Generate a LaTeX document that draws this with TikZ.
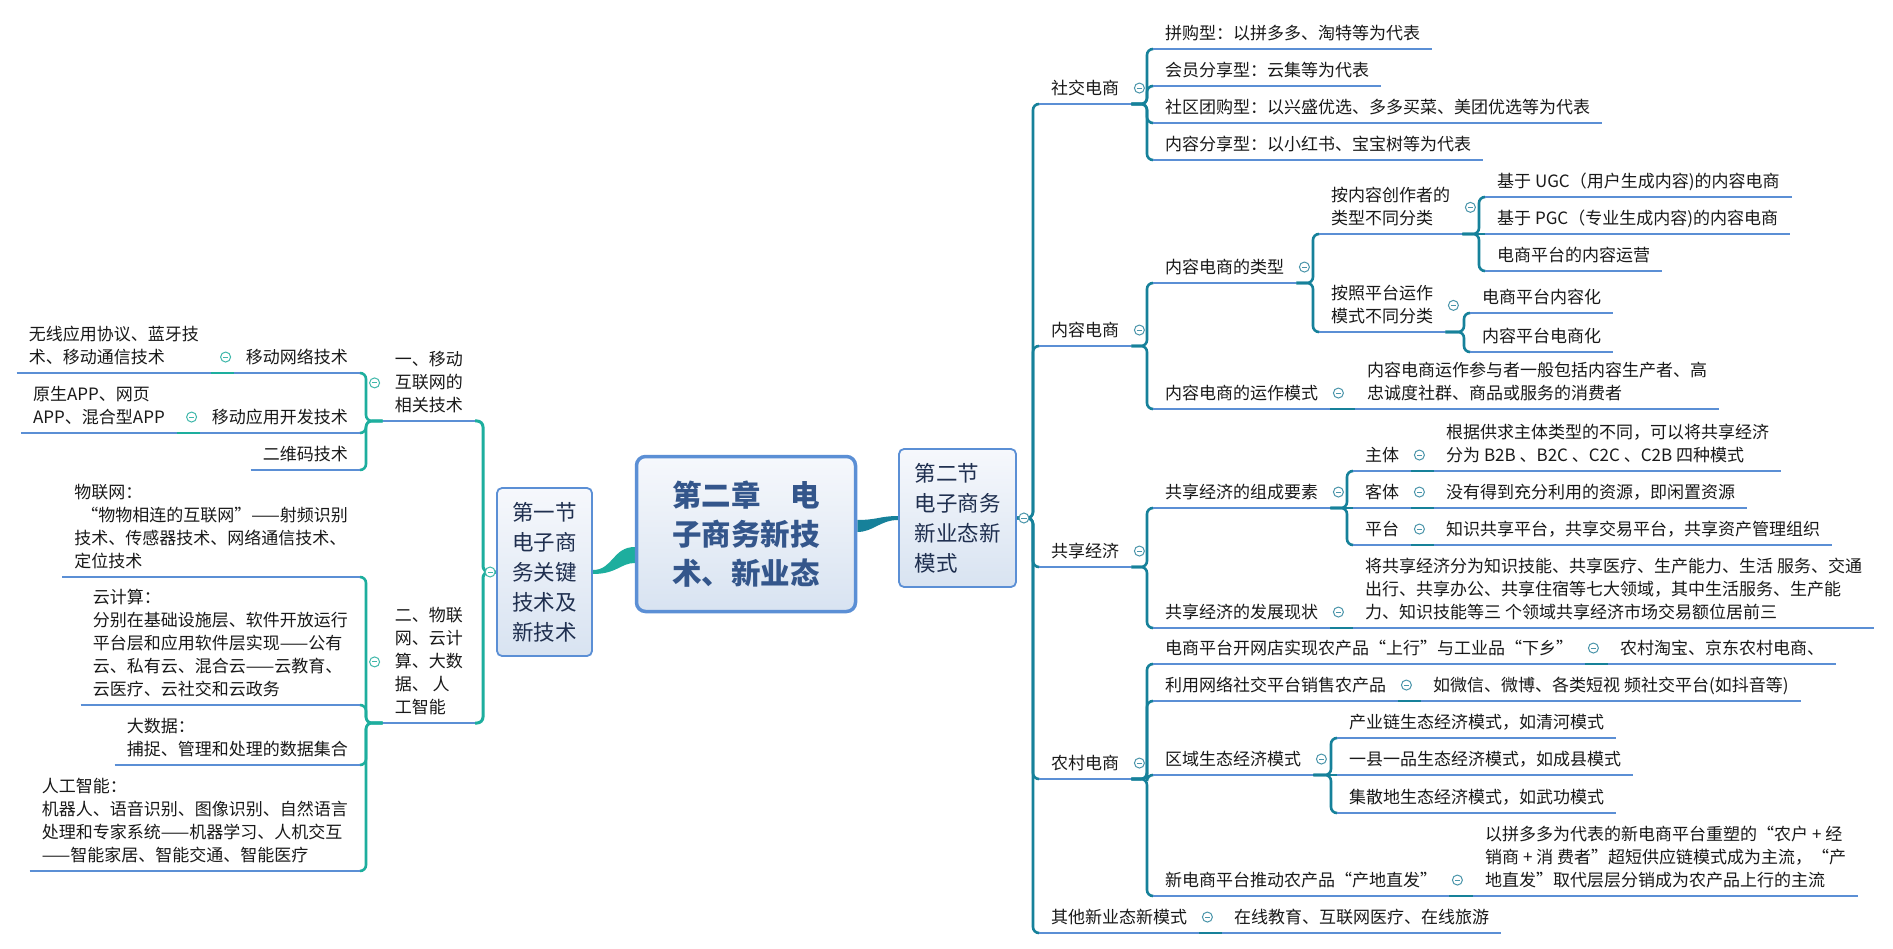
\documentclass[tikz,border=0pt]{standalone}
\usepackage{fontspec}
\setmainfont{Noto Sans CJK SC}
\usetikzlibrary{calc,backgrounds}
\definecolor{ublue}{HTML}{5B8FD5}
\definecolor{lteal}{HTML}{1DAE9E}
\definecolor{rteal}{HTML}{16819A}
\definecolor{lcircc}{HTML}{3FB8AA}
\definecolor{rcircc}{HTML}{4A95AA}
\definecolor{boxtop}{HTML}{F6F8FC}
\definecolor{boxbot}{HTML}{D8E3F1}
\definecolor{cdark}{HTML}{34568B}
\definecolor{sdark}{HTML}{1F2F4F}
\tikzset{
  uline/.style={draw=ublue, line width=2.2pt},
  topic/.style={inner xsep=12pt, inner ysep=0pt, align=left,
    font=\fontsize{17}{23}\selectfont, text=black!90,
    execute at begin node={\rule{0pt}{16pt}},
    execute at end node={\rule[-9.5pt]{0pt}{9.5pt}},
    append after command={(\tikzlastnode.south west) edge[uline] (\tikzlastnode.south east)}},
  rt/.style={topic, anchor=south west},
  lt/.style={topic, anchor=south east},
  rconn/.style={draw=rteal, line width=2.6pt, rounded corners=6pt},
  lconn/.style={draw=lteal, line width=2.6pt, rounded corners=6pt},
  rcoll/.style={circle, draw=rcircc, fill=white, line width=1pt, minimum size=10pt, inner sep=0pt,
    path picture={\draw[rcircc, line width=1pt] ([xshift=-2.6pt]path picture bounding box.center) -- ([xshift=2.6pt]path picture bounding box.center);}},
  lcoll/.style={circle, draw=lcircc, fill=white, line width=1pt, minimum size=10pt, inner sep=0pt,
    path picture={\draw[lcircc, line width=1pt] ([xshift=-2.6pt]path picture bounding box.center) -- ([xshift=2.6pt]path picture bounding box.center);}},
  cbox/.style={rounded corners=9pt, draw=ublue, line width=3.5pt, top color=boxtop, bottom color=boxbot,
    minimum width=219pt, minimum height=155pt, inner sep=0pt, align=left, text=cdark,
    font=\fontsize{29.5}{39}\selectfont\bfseries},
  sbox/.style={rounded corners=5pt, draw=ublue, line width=1.8pt, top color=boxtop, bottom color=boxbot,
    inner sep=0pt, align=left, text=sdark, font=\fontsize{21.5}{30}\selectfont},
}
\newcommand\mmRlink[2]{\path (#2.south west) ++(-6pt,0) coordinate (tmp); \draw[rconn] (#1.south east) -- (#1.south east -| tmp) |- (#2.south west);}
\newcommand\mmRstr[2]{\draw[rconn] (#1.south east) -- (#2.south west);}
\newcommand\mmLlink[2]{\path (#2.south east) ++(6pt,0) coordinate (tmp); \draw[lconn] (#1.south west) -- (#1.south west -| tmp) |- (#2.south east);}
\newcommand\mmLstr[2]{\draw[lconn] (#1.south west) -- (#2.south east);}
\newcommand\mmRcol[1]{\node[rcoll] (c#1) at ([xshift=8pt,yshift=3pt]#1.east) {};}
\newcommand\mmLcol[1]{\node[lcoll] (c#1) at ([xshift=-8pt,yshift=3pt]#1.west) {};}
\begin{document}
\begin{tikzpicture}[x=1pt,y=-1pt]
\useasboundingbox (0,0) rectangle (1893,949);

% central boxes
\node[cbox] (cent) at (746,534) {第二章　电\\子商务新技\\术、新业态};
\node[sbox, minimum width=95pt, minimum height=168pt] (first) at (544.5,572) {第一节\\电子商\\务关键\\技术及\\新技术};
\node[sbox, minimum width=117pt, minimum height=138pt] (sec) at (957.5,518) {第二节\\电子商务\\新业态新\\模式};

% ---------- right side ----------
\node[rt] (r1) at (1039,104) {社交电商};
\node[rt] (r1a) at (1153,49) {拼购型：以拼多多、淘特等为代表};
\node[rt] (r1b) at (1153,86) {会员分享型：云集等为代表};
\node[rt] (r1c) at (1153,123) {社区团购型：以兴盛优选、多多买菜、美团优选等为代表};
\node[rt] (r1d) at (1153,160) {内容分享型：以小红书、宝宝树等为代表};

\node[rt] (r2) at (1039,346) {内容电商};
\node[rt] (r2a) at (1153,283) {内容电商的类型};
\node[rt] (r2a1) at (1319,234) {按内容创作者的\\类型不同分类};
\node[rt] (r2a1a) at (1485,197) {基于 UGC（用户生成内容)的内容电商};
\node[rt] (r2a1b) at (1485,234) {基于 PGC（专业生成内容)的内容电商};
\node[rt] (r2a1c) at (1485,271) {电商平台的内容运营};
\node[rt] (r2a2) at (1319,332) {按照平台运作\\模式不同分类};
\node[rt] (r2a2a) at (1470,313) {电商平台内容化};
\node[rt] (r2a2b) at (1470,352) {内容平台电商化};
\node[rt] (r2b) at (1153,409) {内容电商的运作模式};
\node[rt] (r2b1) at (1355,409) {内容电商运作参与者一般包括内容生产者、高\\忠诚度社群、商品或服务的消费者};

\node[rt] (r3) at (1039,567) {共享经济};
\node[rt] (r3a) at (1153,508) {共享经济的组成要素};
\node[rt] (r3a1) at (1353,471) {主体};
\node[rt] (r3a1x) at (1434,471) {根据供求主体类型的不同，可以将共享经济\\分为 B2B 、B2C 、C2C 、C2B 四种模式};
\node[rt] (r3a2) at (1353,508) {客体};
\node[rt] (r3a2x) at (1434,508) {没有得到充分利用的资源，即闲置资源};
\node[rt] (r3a3) at (1353,545) {平台};
\node[rt] (r3a3x) at (1434,545) {知识共享平台，共享交易平台，共享资产管理组织};
\node[rt] (r3b) at (1153,628) {共享经济的发展现状};
\node[rt] (r3b1) at (1353,628) {将共享经济分为知识技能、共享医疗、生产能力、生活 服务、交通\\出行、共享办公、共享住宿等七大领域，其中生活服务、生产能\\力、知识技能等三 个领域共享经济市场交易额位居前三};

\node[rt] (r4) at (1039,779) {农村电商};
\node[rt] (r4a) at (1153,664) {电商平台开网店实现农产品“上行”与工业品“下乡”};
\node[rt] (r4a1) at (1608,664) {农村淘宝、京东农村电商、};
\node[rt] (r4b) at (1153,701) {利用网络社交平台销售农产品};
\node[rt] (r4b1) at (1421,701) {如微信、微博、各类短视 频社交平台(如抖音等)};
\node[rt] (r4c) at (1153,775) {区域生态经济模式};
\node[rt] (r4c1) at (1337,738) {产业链生态经济模式，如清河模式};
\node[rt] (r4c2) at (1337,775) {一县一品生态经济模式，如成县模式};
\node[rt] (r4c3) at (1337,813) {集散地生态经济模式，如武功模式};
\node[rt] (r4d) at (1153,896) {新电商平台推动农产品“产地直发”};
\node[rt] (r4d1) at (1473,896) {以拼多多为代表的新电商平台重塑的“农户 + 经\\销商 + 消 费者”超短供应链模式成为主流，“产\\地直发”取代层层分销成为农产品上行的主流};

\node[rt] (r5) at (1039,933) {其他新业态新模式};
\node[rt] (r5a) at (1222,933) {在线教育、互联网医疗、在线旅游};

% ---------- left side ----------
\node[lt] (l1) at (475,421) {一、移动\\互联网的\\相关技术};
\node[lt] (l1a) at (360,373) {移动网络技术};
\node[lt] (l1a1) at (211,373) {无线应用协议、蓝牙技\\术、移动通信技术};
\node[lt] (l1b) at (360,433) {移动应用开发技术};
\node[lt] (l1b1) at (177,433) {原生APP、网页\\APP、混合型APP};
\node[lt] (l1c) at (360,470) {二维码技术};
\node[lt] (l2) at (475,723) {二、物联\\网、云计\\算、大数\\据、 人\\工智能};
\node[lt] (l2a) at (360,577) {物联网：\\\hspace*{7pt}“物物相连的互联网”——射频识别\\技术、传感器技术、网络通信技术、\\定位技术};
\node[lt] (l2b) at (360,705) {云计算：\\分别在基础设施层、软件开放运行\\平台层和应用软件层实现——公有\\云、私有云、混合云——云教育、\\云医疗、云社交和云政务};
\node[lt] (l2c) at (360,765) {大数据：\\捕捉、管理和处理的数据集合};
\node[lt] (l2d) at (360,871) {人工智能：\\机器人、语音识别、图像识别、自然语言\\处理和专家系统——机器学习、人机交互\\——智能家居、智能交通、智能医疗};

% ---------- connectors ----------
\begin{scope}[on background layer]
\fill[white] (0,0) rectangle (1893,949);
% root tapered links
\fill[lteal] ([yshift=-13pt]cent.west) .. controls +(-22pt,0) and +(20pt,0) .. ([yshift=2pt]first.east)
  -- ([yshift=-2pt]first.east) .. controls +(24pt,0) and +(-14pt,0) .. ([yshift=-29pt]cent.west) -- cycle;
\fill[rteal] ([yshift=14pt]cent.east) .. controls +(20pt,0) and +(-18pt,0) .. ([yshift=2pt]sec.west)
  -- ([yshift=-2pt]sec.west) .. controls +(-18pt,0) and +(16pt,0) .. ([yshift=2pt]cent.east) -- cycle;
% right trunk
\coordinate (trk) at (1033,518);
\foreach \n in {r1,r2,r3,r4,r5} {\draw[rconn] (sec.east) -- (trk) |- (\n.south west);}
% right branches
\mmRlink{r1}{r1a}\mmRlink{r1}{r1b}\mmRlink{r1}{r1c}\mmRlink{r1}{r1d}
\mmRlink{r2}{r2a}\mmRlink{r2}{r2b}
\mmRlink{r2a}{r2a1}\mmRlink{r2a}{r2a2}
\mmRlink{r2a1}{r2a1a}\mmRstr{r2a1}{r2a1b}\mmRlink{r2a1}{r2a1c}
\mmRlink{r2a2}{r2a2a}\mmRlink{r2a2}{r2a2b}
\mmRstr{r2b}{r2b1}
\mmRlink{r3}{r3a}\mmRlink{r3}{r3b}
\mmRlink{r3a}{r3a1}\mmRstr{r3a}{r3a2}\mmRlink{r3a}{r3a3}
\mmRstr{r3a1}{r3a1x}\mmRstr{r3a2}{r3a2x}\mmRstr{r3a3}{r3a3x}
\mmRstr{r3b}{r3b1}
\mmRlink{r4}{r4a}\mmRlink{r4}{r4b}\mmRlink{r4}{r4c}\mmRlink{r4}{r4d}
\mmRstr{r4a}{r4a1}\mmRstr{r4b}{r4b1}\mmRstr{r4d}{r4d1}
\mmRlink{r4c}{r4c1}\mmRstr{r4c}{r4c2}\mmRlink{r4c}{r4c3}
\mmRstr{r5}{r5a}
% left trunk
\coordinate (lmk) at (483,572);
\draw[lconn, line width=3pt] (first.west) -- (lmk) |- (l1.south east);
\draw[lconn, line width=3pt] (first.west) -- (lmk) |- (l2.south east);
\mmLlink{l1}{l1a}\mmLlink{l1}{l1b}\mmLlink{l1}{l1c}
\mmLstr{l1a}{l1a1}\mmLstr{l1b}{l1b1}
\mmLlink{l2}{l2a}\mmLlink{l2}{l2b}\mmLlink{l2}{l2c}\mmLlink{l2}{l2d}
\end{scope}

% ---------- collapse icons ----------
\node[rcoll] (csec) at ([xshift=7pt]sec.east) {};
\node[lcoll] (cfirst) at ([xshift=-6pt]first.west) {};
\mmRcol{r1}\mmRcol{r2}\mmRcol{r2a}\mmRcol{r2a1}\mmRcol{r2a2}\mmRcol{r2b}
\mmRcol{r3}\mmRcol{r3a}\mmRcol{r3a1}\mmRcol{r3a2}\mmRcol{r3a3}\mmRcol{r3b}
\mmRcol{r4}\mmRcol{r4a}\mmRcol{r4b}\mmRcol{r4c}\mmRcol{r4d}\mmRcol{r5}
\mmLcol{l1}\mmLcol{l1a}\mmLcol{l1b}\mmLcol{l2}
\end{tikzpicture}
\end{document}
